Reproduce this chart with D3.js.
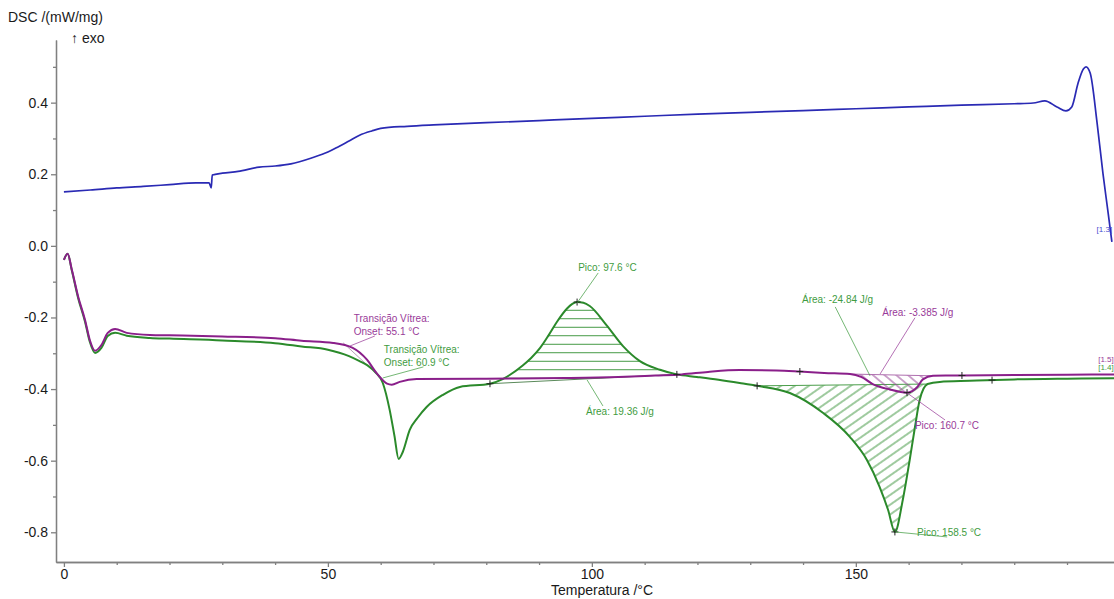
<!DOCTYPE html>
<html>
<head>
<meta charset="utf-8">
<script src="https://cdn.jsdelivr.net/npm/d3@7"></script>
<style>
body { margin: 0; background: #fff; }
svg { display: block; font-family: "Liberation Sans", Arial, sans-serif; }
</style>
</head>
<body>
<div id="chart"></div>
<script>
// curves (temperature in °C, DSC in mW/mg)
const blueT = [0, 5, 10, 15, 20, 25, 27.5, 27.9, 28.1, 30, 33, 37, 40, 43, 47, 50, 52, 54, 56, 58.3, 60, 65, 70, 80, 90, 100, 110, 120, 130, 140, 150, 160, 170, 180, 183.6, 185.8, 188.1, 189.8, 190.9, 192.1, 193.1, 193.6, 194.4, 195.7, 196.8, 197.8, 198.5];
const blueV = [0.151, 0.156, 0.162, 0.166, 0.171, 0.176, 0.176, 0.162, 0.198, 0.203, 0.208, 0.22, 0.223, 0.229, 0.246, 0.262, 0.277, 0.293, 0.309, 0.321, 0.328, 0.334, 0.338, 0.344, 0.35, 0.356, 0.362, 0.368, 0.373, 0.378, 0.383, 0.388, 0.393, 0.397, 0.399, 0.405, 0.388, 0.377, 0.388, 0.455, 0.494, 0.50, 0.482, 0.343, 0.203, 0.091, 0.011];

const purpleT = [0, 0.7, 1.5, 2.7, 4, 4.9, 5.9, 7.1, 8.3, 9.7, 11.9, 16.3, 20, 30, 40, 45, 51, 54.7, 57.4, 59.3, 61.2, 62.1, 63.6, 66.8, 80, 95, 105, 112, 117, 122, 128, 135, 139.4, 144, 148.9, 151, 153.2, 156.4, 159.7, 161.6, 162.7, 164.6, 167, 170.1, 180, 190, 199];
const purpleV = [-0.039, -0.022, -0.067, -0.142, -0.207, -0.263, -0.293, -0.277, -0.243, -0.232, -0.243, -0.249, -0.25, -0.253, -0.258, -0.265, -0.271, -0.285, -0.318, -0.357, -0.385, -0.388, -0.38, -0.372, -0.371, -0.369, -0.366, -0.362, -0.359, -0.352, -0.347, -0.348, -0.351, -0.355, -0.358, -0.366, -0.386, -0.401, -0.41, -0.395, -0.373, -0.363, -0.362, -0.362, -0.361, -0.36, -0.359];

const greenT = [0, 0.7, 1.5, 2.7, 4, 4.9, 5.9, 7.1, 8.3, 9.7, 11.9, 16.3, 20, 30, 40, 45, 50, 54, 56, 57.5, 59, 60.4, 61.7, 62.6, 63.4, 64.2, 65.5, 67, 68.7, 71.8, 75, 80.7, 83.1, 86.9, 88.5, 90.2, 91.8, 93.4, 95.3, 96.3, 97.2, 98.4, 99.6, 102.8, 105.9, 109.1, 112.9, 116.1, 119.9, 124, 128, 131.3, 137.5, 143.75, 148.9, 152.1, 154.5, 156.1, 157.4, 158.9, 160.2, 161.2, 162.1, 163.6, 165.9, 171.6, 180, 190, 199];
const greenV = [-0.039, -0.022, -0.069, -0.146, -0.212, -0.268, -0.299, -0.285, -0.252, -0.243, -0.251, -0.257, -0.259, -0.264, -0.272, -0.281, -0.29, -0.308, -0.322, -0.334, -0.353, -0.383, -0.458, -0.53, -0.595, -0.575, -0.514, -0.48, -0.45, -0.416, -0.394, -0.385, -0.372, -0.334, -0.313, -0.285, -0.25, -0.212, -0.175, -0.162, -0.157, -0.159, -0.168, -0.222, -0.28, -0.322, -0.346, -0.359, -0.366, -0.374, -0.383, -0.391, -0.411, -0.466, -0.534, -0.598, -0.673, -0.737, -0.799, -0.709, -0.598, -0.506, -0.43, -0.386, -0.38, -0.377, -0.373, -0.371, -0.37];

// hatched peak areas: [t start, t end, baseline start, baseline end]
const greenExoArea = [80.7, 116.1, -0.385, -0.359];
const greenEndoArea = [131.3, 163.6, -0.391, -0.386];
const purpleEndoArea = [148.9, 164.6, -0.358, -0.363];

// evaluation points marked with "+"
const greenMarks = [80.7, 97.2, 116.1, 131.3, 157.4, 175.8];
const purpleMarks = [139.4, 159.7, 170.1];

// tick labels
const xTicks = [0, 50, 100, 150];
const xMinor = [10, 20, 30, 40, 60, 70, 80, 90, 110, 120, 130, 140, 160, 170, 180, 190];
const yTicks = [-0.8, -0.6, -0.4, -0.2, 0.0, 0.2, 0.4];
const yMinor = [-0.7, -0.5, -0.3, -0.1, 0.1, 0.3, 0.5];

// annotations: lines, colour key, text position and leader (all in data units)
const notes = [
    {lines: ["Transição Vítrea:", "Onset:  55.1 °C"], c: "p", t: 54.9, v: -0.2126, l: [54.2, -0.2796, 58.9, -0.2517]},
    {lines: ["Transição Vítrea:", "Onset:  60.9 °C"], c: "g", t: 60.6, v: -0.2992, l: [60.4, -0.369, 68.1, -0.338]},
    {lines: ["Pico: 97.6 °C"], c: "g", t: 97.4, v: -0.0701, l: [97.2, -0.1595, 101.2, -0.0757]},
    {lines: ["Área: 19.36 J/g"], c: "g", t: 98.9, v: -0.4724, l: [99.1, -0.3746, 102.1, -0.4472]},
    {lines: ["Área: -24.84 J/g"], c: "g", t: 139.8, v: -0.1595, l: [146.1, -0.1706, 152.7, -0.3634]},
    {lines: ["Área: -3.385 J/g"], c: "p", t: 155.0, v: -0.1958, l: [161.2, -0.2008, 154.6, -0.3578]},
    {lines: ["Pico: 160.7 °C"], c: "p", t: 161.2, v: -0.5115, l: [159.7, -0.4109, 166.9, -0.4863]},
    {lines: ["Pico: 158.5 °C"], c: "g", t: 161.6, v: -0.81, l: [157.4, -0.799, 167.3, -0.813]}
];
const segLabels = [
    {txt: "[1.3]", c: "b", t: 195.6, v: 0.040},
    {txt: "[1.5]", c: "p", t: 195.9, v: -0.324},
    {txt: "[1.4]", c: "g", t: 195.9, v: -0.347}
];

const W = 1114, H = 599;
const lineCol = {b: "#2a2ab4", p: "#8a1f8a", g: "#2b8a2b"};
const textCol = {b: "#4a4ad0", p: "#993a99", g: "#3f9c3f"};

let svg = d3.select("#chart")
    .append("svg")
    .attr("width", W)
    .attr("height", H)

let x = d3.scaleLinear().domain([-1.5, 198.9]).range([56, 1114]);
let y = d3.scaleLinear().domain([-0.883, 0.575]).range([562, 40]);

let defs = svg.append("defs");
function hatch(id, col, h, angle) {
    defs.append("pattern")
        .attr("id", id)
        .attr("patternUnits", "userSpaceOnUse")
        .attr("width", 12)
        .attr("height", h)
        .attr("patternTransform", "rotate(" + angle + ")")
        .append("line")
        .attr("x1", 0).attr("x2", 12)
        .attr("y1", h / 2).attr("y2", h / 2)
        .attr("stroke", col)
        .attr("stroke-width", 1);
}
hatch("hatchH", "#3a943a", 8.5, 0);
hatch("hatchG", "#3f963f", 8, -35);
hatch("hatchP", "#9a4a9a", 7.5, 40);

// axes
function styleAxis(g) {
    g.selectAll("path, line").attr("stroke", "#808080").attr("stroke-width", 1.3);
    g.selectAll("text").attr("fill", "#1a1a1a").style("font-size", "14px");
}

svg.append("g")
    .attr("transform", "translate(56,0)")
    .call(d3.axisLeft(y).tickValues(yTicks).tickSize(5).tickSizeOuter(0).tickPadding(3).tickFormat(d => d.toFixed(1)))
    .call(styleAxis);
svg.append("g")
    .attr("transform", "translate(56,0)")
    .call(d3.axisLeft(y).tickValues(yMinor).tickSize(3).tickSizeOuter(0).tickFormat(""))
    .call(styleAxis);

svg.append("g")
    .attr("transform", "translate(0,562)")
    .call(d3.axisBottom(x).tickValues(xTicks).tickSize(5).tickSizeOuter(0).tickPadding(2).tickFormat(d3.format("d")))
    .call(styleAxis);
svg.append("g")
    .attr("transform", "translate(0,562)")
    .call(d3.axisBottom(x).tickValues(xMinor).tickSize(3).tickSizeOuter(0).tickFormat(""))
    .call(styleAxis);

svg.append("text")
    .attr("x", 602).attr("y", 595)
    .attr("text-anchor", "middle")
    .style("font-size", "14px")
    .attr("fill", "#1a1a1a")
    .text("Temperatura /°C");
svg.append("text")
    .attr("x", 8).attr("y", 22)
    .style("font-size", "14px")
    .attr("fill", "#1a1a1a")
    .text("DSC /(mW/mg)");
svg.append("text")
    .attr("x", 71).attr("y", 43)
    .style("font-size", "14px")
    .attr("fill", "#1a1a1a")
    .text("↑ exo");

// hatched areas
function zip(T, V) { return T.map((t, i) => [t, V[i]]); }
function hatchArea(T, V, a, fill, col) {
    let base = d3.scaleLinear().domain([a[0], a[1]]).range([a[2], a[3]]);
    let pts = zip(T, V).filter(p => p[0] >= a[0] && p[0] <= a[1]);
    svg.append("path")
        .attr("d", d3.area().x(p => x(p[0])).y0(p => y(base(p[0]))).y1(p => y(p[1])).curve(d3.curveMonotoneX)(pts))
        .attr("fill", "url(#" + fill + ")")
        .attr("stroke", "none");
    svg.append("line")
        .attr("x1", x(a[0])).attr("y1", y(a[2]))
        .attr("x2", x(a[1])).attr("y2", y(a[3]))
        .attr("stroke", col)
        .attr("stroke-width", 1);
}
hatchArea(greenT, greenV, greenExoArea, "hatchH", "#5a8a5a");
hatchArea(greenT, greenV, greenEndoArea, "hatchG", "#4a9e4a");
hatchArea(purpleT, purpleV, purpleEndoArea, "hatchP", "#b070b0");

// onset tangent (purple glass transition)
svg.append("line")
    .attr("x1", x(52.9)).attr("y1", y(-0.271))
    .attr("x2", x(60.5)).attr("y2", y(-0.3745))
    .attr("stroke", "#b8a0b8").attr("stroke-width", 1);

// curves
let line = d3.line().x(p => x(p[0])).y(p => y(p[1])).curve(d3.curveMonotoneX);
svg.append("path").attr("d", line(zip(greenT, greenV)))
    .attr("fill", "none").attr("stroke", lineCol.g).attr("stroke-width", 2);
svg.append("path").attr("d", line(zip(purpleT, purpleV)))
    .attr("fill", "none").attr("stroke", lineCol.p).attr("stroke-width", 2);
svg.append("path").attr("d", line(zip(blueT, blueV)))
    .attr("fill", "none").attr("stroke", lineCol.b).attr("stroke-width", 1.7);

// "+" markers
function marks(T, V, list) {
    let f = d3.scaleLinear().domain(T).range(V);
    list.forEach(t => {
        let cx = x(t), cy = y(f(t));
        svg.append("path")
            .attr("d", "M" + (cx - 3.5) + "," + cy + "H" + (cx + 3.5) + "M" + cx + "," + (cy - 3.5) + "V" + (cy + 3.5))
            .attr("stroke", "#222").attr("stroke-width", 1);
    });
}
marks(greenT, greenV, greenMarks);
marks(purpleT, purpleV, purpleMarks);

// annotations
notes.forEach(n => {
    svg.append("line")
        .attr("x1", x(n.l[0])).attr("y1", y(n.l[1]))
        .attr("x2", x(n.l[2])).attr("y2", y(n.l[3]))
        .attr("stroke", textCol[n.c]).attr("stroke-width", 0.9).attr("opacity", 0.8);
    let tx = svg.append("text")
        .attr("x", x(n.t)).attr("y", y(n.v))
        .style("font-size", "10px")
        .attr("fill", textCol[n.c]);
    n.lines.forEach((s, i) => tx.append("tspan").attr("x", x(n.t)).attr("dy", i ? 13 : 0).text(s));
});

segLabels.forEach(s => {
    svg.append("text")
        .attr("x", x(s.t)).attr("y", y(s.v))
        .style("font-size", "8px")
        .attr("fill", textCol[s.c])
        .text(s.txt);
});
</script>
</body>
</html>
